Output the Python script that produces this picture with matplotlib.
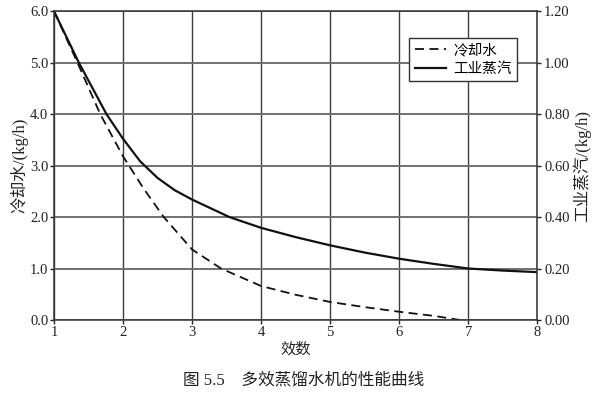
import matplotlib
matplotlib.use("Agg")
import matplotlib.pyplot as plt

plt.rcParams['font.family'] = ['Liberation Serif', 'Noto Sans CJK SC']
plt.rcParams['font.size'] = 10.5

# 冷却水 (dashed), kg/h on the left axis
cool_x = [1.0, 1.34, 1.67, 2.0, 2.3, 2.59, 3.0, 3.42, 4.0, 4.5, 5.0, 5.5, 6.0, 6.5, 6.88]
cool_y = [6.0, 5.0, 4.0, 3.18, 2.55, 2.0, 1.37, 1.0, 0.66, 0.49, 0.35, 0.25, 0.16, 0.08, 0.0]

# 工业蒸汽 (solid), drawn on the left scale (right axis = left / 5)
steam_x = [1.0, 1.36, 1.76, 2.0, 2.25, 2.5, 2.75, 3.0, 3.54, 4.0, 4.5, 5.0, 5.5, 6.0, 6.5, 7.0, 7.5, 8.0]
steam_y = [6.0, 5.0, 4.0, 3.52, 3.08, 2.76, 2.52, 2.34, 2.0, 1.79, 1.61, 1.45, 1.31, 1.19, 1.09, 1.0, 0.96, 0.93]

x_ticks = [1, 2, 3, 4, 5, 6, 7, 8]
left_ticks = [0.0, 1.0, 2.0, 3.0, 4.0, 5.0, 6.0]
right_ticks = [0.0, 0.2, 0.4, 0.6, 0.8, 1.0, 1.2]

fig = plt.figure(figsize=(5.93, 3.97), dpi=100)
ax = fig.add_axes([0.091, 0.194, 0.815, 0.778])

ax.plot(cool_x, cool_y, color='#111111', lw=1.3, linestyle=(0, (5, 3)), label='冷却水')
ax.plot(steam_x, steam_y, color='#111111', lw=1.6, label='工业蒸汽')

ax.set_xlim(1, 8)
ax.set_ylim(0, 6)
ax.set_xticks(x_ticks)
ax.set_yticks(left_ticks)
ax.set_yticklabels([f"{v:.1f}" for v in left_ticks])
ax.tick_params(length=3, width=1, pad=1, colors='#222222')
ax.xaxis.grid(True, color='#3c3c3c', lw=1.0)
ax.yaxis.grid(True, color='#707070', lw=1.4)
ax.set_axisbelow(True)
for s in ax.spines.values():
    s.set_color('#333333')
    s.set_linewidth(1.1)

ax.set_xlabel('效数', fontsize=11, labelpad=3, color='#222222')
ax.set_ylabel('冷却水/(kg/h)', fontsize=12, labelpad=1, color='#222222')

ax2 = ax.twinx()
ax2.set_ylim(0, 1.2)
ax2.set_yticks(right_ticks)
ax2.set_yticklabels([f"{v:.2f}" for v in right_ticks])
ax2.tick_params(length=3, width=1, pad=2, colors='#222222')
ax2.set_ylabel('工业蒸汽/(kg/h)', fontsize=12, rotation=90, labelpad=2, color='#222222')
for s in ax2.spines.values():
    s.set_visible(False)

leg = ax.legend(loc='upper right', bbox_to_anchor=(0.959, 0.913), borderaxespad=0,
                frameon=True, fancybox=False, edgecolor='#333333', framealpha=1,
                handlelength=2.1, borderpad=0.4, labelspacing=0.3, handletextpad=0.5)
leg.get_frame().set_linewidth(1.0)

fig.text(0.512, 0.043, '图 5.5　多效蒸馏水机的性能曲线', ha='center', va='center',
         fontsize=12, color='#222222')

fig.savefig('out.png', dpi=100)
